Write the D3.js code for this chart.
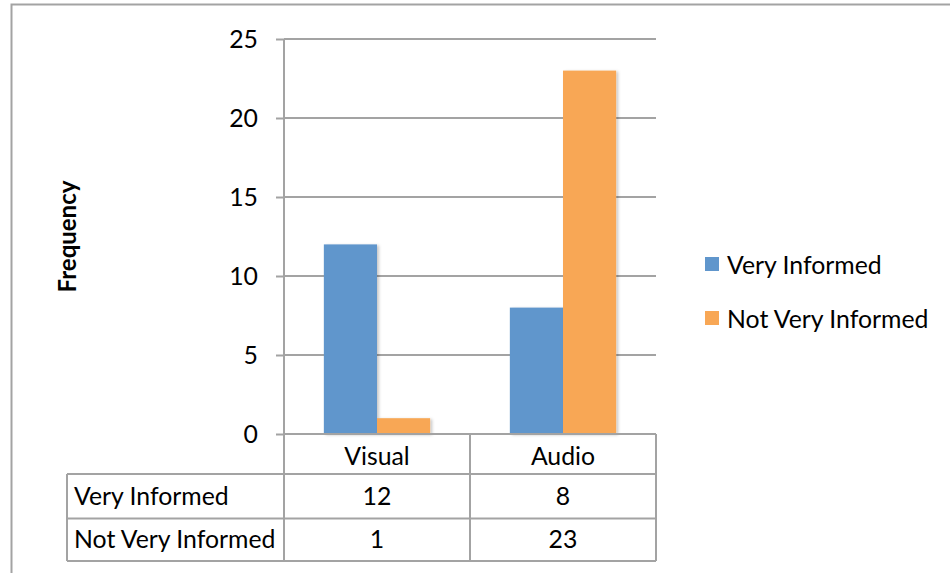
<!DOCTYPE html>
<html>
<head>
<meta charset="utf-8">
<script src="https://cdn.jsdelivr.net/npm/d3@7"></script>
<style>
  html, body { margin: 0; padding: 0; background: #fff; }
  svg { display: block; }
  text { font-family: Lato, "Open Sans", sans-serif; fill: #000; }
</style>
</head>
<body>
<svg id="chart" width="950" height="573"></svg>
<script>
// Chart data
const categories = ["Visual", "Audio"];
const seriesNames = ["Very Informed", "Not Very Informed"];
const veryInformed = [12, 8];
const notVeryInformed = [1, 23];
const yTicks = [0, 5, 10, 15, 20, 25];

const seriesValues = [veryInformed, notVeryInformed];
const colors = ["#6096cc", "#f8a755"];
const gridColor = "#a3a3a3";
const fontSize = 24.8;

const svg = d3.select("#chart");

// soft shadow under the bars
const defs = svg.append("defs");
const f = defs.append("filter").attr("id", "shadow")
  .attr("x", "-20%").attr("y", "-20%").attr("width", "140%").attr("height", "140%");
f.append("feDropShadow").attr("dx", 2).attr("dy", 1).attr("stdDeviation", 1.6)
  .attr("flood-color", "#000").attr("flood-opacity", 0.22);

// outer chart frame
svg.append("rect")
  .attr("x", 11.5).attr("y", 4.5).attr("width", 960).attr("height", 600)
  .attr("fill", "none").attr("stroke", gridColor).attr("stroke-width", 2);

const plotLeft = 284, plotRight = 656, plotTop = 39, plotBottom = 434;

const x = d3.scaleBand().domain(categories).range([plotLeft, plotRight]).padding(0);
const xs = d3.scaleBand().domain(d3.range(seriesNames.length))
  .range([0, x.bandwidth()]).paddingInner(0).paddingOuter(0.75);
const y = d3.scaleLinear().domain([0, 25]).range([plotBottom, plotTop]);

// horizontal gridlines
svg.append("g").selectAll("line").data(yTicks.filter(d => d > 0)).join("line")
  .attr("x1", plotLeft).attr("x2", plotRight)
  .attr("y1", d => y(d)).attr("y2", d => y(d))
  .attr("stroke", gridColor).attr("stroke-width", 2);

// bars
const groups = svg.append("g").selectAll("g").data(categories).join("g")
  .attr("transform", c => `translate(${x(c)},0)`);
groups.selectAll("rect")
  .data((c, ci) => seriesValues.map((vals, si) => ({ si, v: vals[ci] })))
  .join("rect")
  .attr("x", d => xs(d.si))
  .attr("width", xs.bandwidth())
  .attr("y", d => y(d.v))
  .attr("height", d => y(0) - y(d.v))
  .attr("fill", d => colors[d.si])
  .attr("filter", "url(#shadow)");

// value axis
const yAxis = d3.axisLeft(y).tickValues(yTicks).tickSize(8).tickPadding(18).tickFormat(d3.format("d"));
const ya = svg.append("g").attr("transform", `translate(${plotLeft},0)`).call(yAxis);
ya.select(".domain").remove();
ya.selectAll(".tick line").attr("stroke", gridColor).attr("stroke-width", 2);
ya.selectAll(".tick text")
  .attr("font-size", fontSize).attr("font-family", "Lato, sans-serif")
  .attr("fill", "#000").attr("dy", "0.35em");
svg.append("line")
  .attr("x1", plotLeft).attr("x2", plotLeft).attr("y1", plotTop).attr("y2", 561)
  .attr("stroke", gridColor).attr("stroke-width", 2);

// axis title
svg.append("text")
  .attr("transform", `translate(76,${(plotTop + plotBottom) / 2}) rotate(-90)`)
  .attr("text-anchor", "middle")
  .attr("font-size", 24).attr("font-weight", "bold")
  .text("Frequency");

// data table below the plot
const rowLines = [434, 474, 518.5, 561];
const tableLeft = 67;
const tbl = svg.append("g");
tbl.selectAll("line.h").data(rowLines).join("line")
  .attr("x1", (d, i) => i === 0 ? plotLeft : tableLeft).attr("x2", plotRight)
  .attr("y1", d => d).attr("y2", d => d)
  .attr("stroke", gridColor).attr("stroke-width", 2);
const colLines = [
  { x: tableLeft, y1: rowLines[1], y2: rowLines[3] },
  { x: x("Audio"), y1: rowLines[0], y2: rowLines[3] },
  { x: plotRight, y1: rowLines[0], y2: rowLines[3] }
];
tbl.selectAll("line.v").data(colLines).join("line")
  .attr("x1", d => d.x).attr("x2", d => d.x)
  .attr("y1", d => d.y1).attr("y2", d => d.y2)
  .attr("stroke", gridColor).attr("stroke-width", 2);

// category header row
tbl.selectAll("text.cat").data(categories).join("text")
  .attr("x", c => x(c) + x.bandwidth() / 2)
  .attr("y", (rowLines[0] + rowLines[1]) / 2 + 2)
  .attr("dy", "0.35em").attr("text-anchor", "middle")
  .attr("font-size", fontSize).text(c => c);

// series rows
seriesNames.forEach((name, si) => {
  const cy = (rowLines[si + 1] + rowLines[si + 2]) / 2;
  tbl.append("text").attr("x", 74).attr("y", cy).attr("dy", "0.35em")
    .attr("font-size", fontSize).text(name);
  tbl.selectAll(null).data(categories).join("text")
    .attr("x", c => x(c) + x.bandwidth() / 2).attr("y", cy)
    .attr("dy", "0.35em").attr("text-anchor", "middle")
    .attr("font-size", fontSize)
    .text((c, ci) => seriesValues[si][ci]);
});

// legend
const legend = svg.append("g").selectAll("g").data(seriesNames).join("g")
  .attr("transform", (d, i) => `translate(705,${264 + i * 54})`);
legend.append("rect").attr("x", 0).attr("y", -7).attr("width", 14).attr("height", 14)
  .attr("fill", (d, i) => colors[i]);
legend.append("text").attr("x", 22).attr("y", 1).attr("dy", "0.35em")
  .attr("font-size", fontSize).text(d => d);
</script>
</body>
</html>
